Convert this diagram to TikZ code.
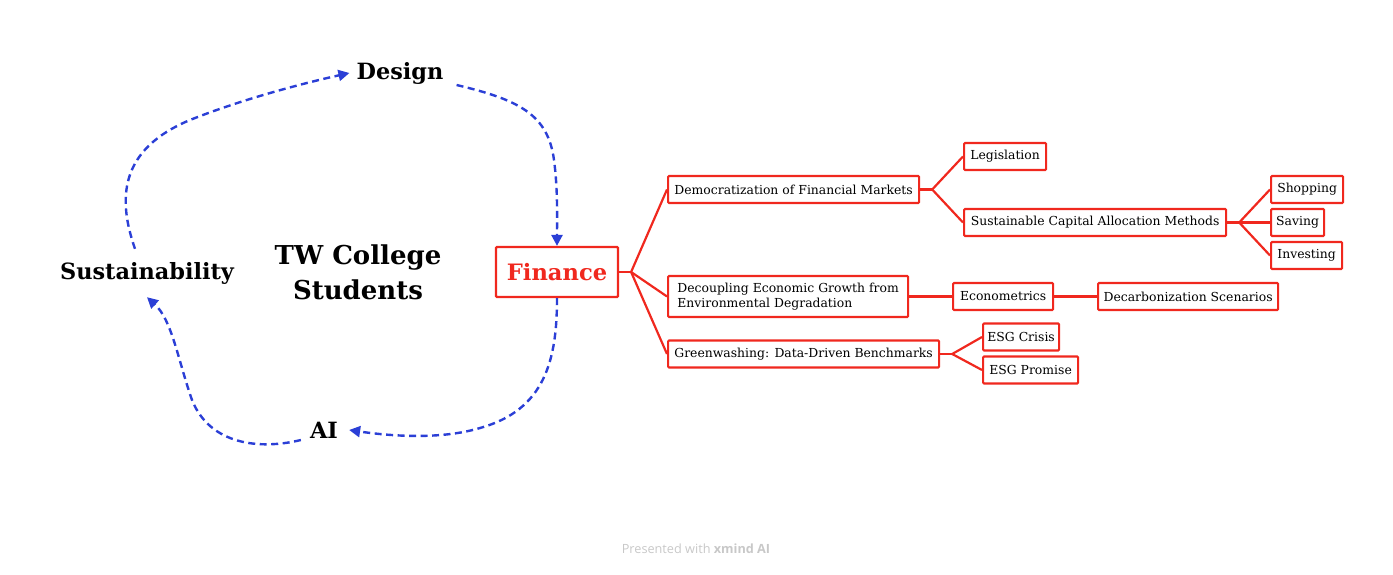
\documentclass[tikz,border=0pt]{standalone}
\usepackage{fontspec}
\setmainfont{DejaVu Serif}
\newfontfamily\footfont{Open Sans}
\usetikzlibrary{arrows.meta}
\definecolor{redc}{HTML}{F0281E}
\definecolor{bluec}{HTML}{2B3FD6}
\definecolor{footc}{HTML}{C8C8C8}
\begin{document}
\begin{tikzpicture}[x=1pt,y=-1pt,
  leaf/.style={draw=redc, line width=2.2pt, rounded corners=1pt, text=black,
    font=\fontsize{12.4}{15}\selectfont, anchor=west, inner xsep=4pt, inner ysep=2pt,
    minimum height=27pt, align=left},
  conn/.style={draw=redc, line width=2.2pt, line join=round},
  flow/.style={draw=bluec, line width=2.4pt, dash pattern=on 7pt off 4.5pt,
    -{Triangle[length=11pt,width=11pt]}},
  head/.style={font=\bfseries\fontsize{22.4}{26}\selectfont, text=black, inner sep=1pt}]
\useasboundingbox (0,0) rectangle (1393,575);
% central loop
\node[head] (design) at (400,73) {Design};
\node[head] (sus) at (147,273) {Sustainability};
\node[head] (ai) at (324,430) {AI};
\node[font=\bfseries\fontsize{26}{35}\selectfont, align=center, inner sep=1pt] (tw) at (358,272) {TW College\\Students};
\node[draw=redc, line width=2.2pt, rounded corners=1pt, text=redc,
  font=\bfseries\fontsize{22.6}{26}\selectfont, minimum width=122pt, minimum height=50pt] (fin) at (557,272) {Finance};
% level 1
\node[leaf, minimum width=251pt] (dem) at (667,189.5) {Democratization of Financial Markets};
\node[leaf, minimum width=240pt, minimum height=41pt] (dec) at (667,296.5) {Decoupling Economic Growth from\\Environmental Degradation};
\node[leaf, minimum width=271pt] (gre) at (667,354) {Greenwashing: Data-Driven Benchmarks};
% level 2
\node[leaf, minimum width=82pt] (leg) at (963,156.5) {Legislation};
\node[leaf, minimum width=262pt] (sca) at (963,222.5) {Sustainable Capital Allocation Methods};
\node[leaf, minimum width=100pt] (eco) at (952,296.5) {Econometrics};
\node[leaf, minimum width=180pt] (dcs) at (1097,296.5) {Decarbonization Scenarios};
\node[leaf, minimum width=76pt] (esc) at (982,337) {ESG Crisis};
\node[leaf, minimum width=95pt] (esp) at (982,370) {ESG Promise};
% level 3
\node[leaf, minimum width=72pt] (sho) at (1270,189.5) {Shopping};
\node[leaf, minimum width=53pt] (sav) at (1270,222.5) {Saving};
\node[leaf, minimum width=71pt] (inv) at (1270,255.5) {Investing};
% red connectors
\draw[conn] (fin.east) -- ++(12,0) coordinate (j1);
\draw[conn] (j1) -- (dem.west);
\draw[conn] (j1) -- (dec.west);
\draw[conn] (j1) -- (gre.west);
\draw[conn] (dem.east) -- ++(12,0) coordinate (j2);
\draw[conn] (j2) -- (leg.west);
\draw[conn] (j2) -- (sca.west);
\draw[conn] (sca.east) -- ++(12,0) coordinate (j3);
\draw[conn] (j3) -- (sho.west);
\draw[conn] (j3) -- (sav.west);
\draw[conn] (j3) -- (inv.west);
\draw[conn] (dec.east) -- (eco.west);
\draw[conn] (eco.east) -- (dcs.west);
\draw[conn] (gre.east) -- ++(12,0) coordinate (j4);
\draw[conn] (j4) -- (esc.west);
\draw[conn] (j4) -- (esp.west);
% blue flow
\coordinate (s1) at ([shift={(-12,-12)}]sus.north);
\draw[flow] (s1) .. controls (118,200) and (118,150) .. (190,120) .. controls (240,100) and (300,84) .. ([xshift=-6pt]design.west);
\coordinate (d1) at ([shift={(12,12)}]design.east);
\draw[flow] (d1) .. controls (520,100) and (548,115) .. (554,160) .. controls (558,190) and (557,220) .. (fin.north);
\draw[flow] (fin.south) .. controls (557,360) and (545,410) .. (480,428) .. controls (440,440) and (390,436) .. ([xshift=10pt]ai.east);
\coordinate (a1) at ([shift={(-8,10)}]ai.west);
\draw[flow] (a1) .. controls (260,450) and (210,445) .. (192,400) .. controls (178,360) and (172,320) .. ([shift={(0,12)}]sus.south);
% footer
\node[font=\footfont\fontsize{12.7}{15}\selectfont, text=footc] (foot) at (696,549) {Presented with \textbf{xmind AI}};
\end{tikzpicture}
\end{document}
